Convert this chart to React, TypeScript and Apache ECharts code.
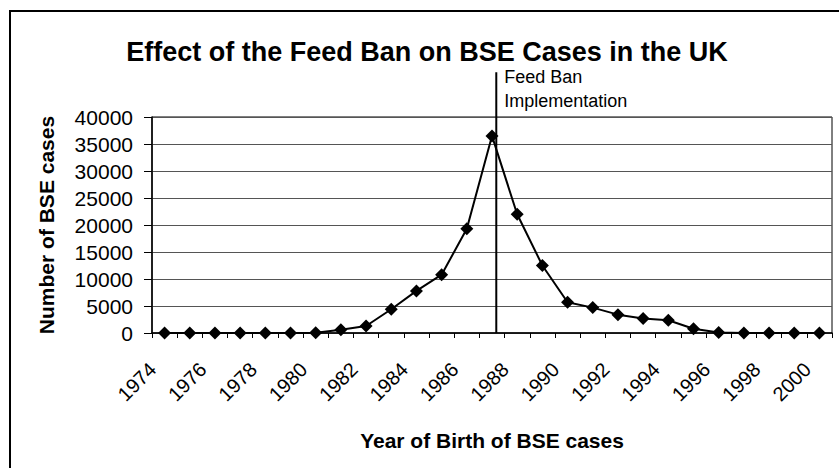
import React, { useEffect, useRef } from "react";
import * as echarts from "echarts";

const years = [
  "1974", "1975", "1976", "1977", "1978", "1979", "1980", "1981", "1982",
  "1983", "1984", "1985", "1986", "1987", "1988", "1989", "1990", "1991",
  "1992", "1993", "1994", "1995", "1996", "1997", "1998", "1999", "2000",
];
const bseCases = [
  0, 0, 0, 0, 0, 0, 50, 600, 1300,
  4400, 7800, 10800, 19300, 36500, 22000, 12500, 5700, 4700,
  3400, 2700, 2350, 800, 100, 0, 0, 0, 0,
];
const yMin = 0;
const yMax = 40000;
const yStep = 5000;
const feedBanYear = "1987";
const feedBanNextYear = "1988";
const feedBanFraction = 0.17;
const feedBanLineTopValue = 48300;
const titleText = "Effect of the Feed Ban on BSE Cases in the UK";
const xName = "Year of Birth of BSE cases";
const yName = "Number of BSE cases";
const annotationLines = ["Feed Ban", "Implementation"];

const FONT = "'Liberation Sans', Arial, Helvetica, sans-serif";

export default function App() {
  const ref = useRef<HTMLDivElement>(null);
  useEffect(() => {
    if (!ref.current) return;
    const chart = echarts.init(ref.current, null, { renderer: "svg" });
    chart.setOption({
      animation: false,
      backgroundColor: "#fff",
      title: {
        text: titleText,
        left: 422,
        textAlign: "center",
        top: 33,
        textStyle: { fontFamily: FONT, fontSize: 27, fontWeight: "bold", color: "#000" },
      },
      grid: {
        left: 152,
        right: 7,
        top: 117,
        bottom: 135,
        show: true,
        borderColor: "#000",
        borderWidth: 1,
        backgroundColor: "transparent",
      },
      xAxis: {
        type: "category",
        data: years,
        boundaryGap: true,
        name: xName,
        nameLocation: "middle",
        nameGap: 97,
        nameTextStyle: { fontFamily: FONT, fontSize: 21, fontWeight: "bold", color: "#000" },
        axisLine: { show: true, lineStyle: { color: "#000", width: 1.5 } },
        axisTick: { show: true, interval: 0, alignWithLabel: false, length: 5, lineStyle: { color: "#000" } },
        axisLabel: {
          interval: 1,
          rotate: 45,
          margin: 21,
          padding: [0, 17, 0, 0],
          fontFamily: FONT,
          fontSize: 20,
          color: "#000",
        },
        splitLine: { show: false },
      },
      yAxis: {
        type: "value",
        min: yMin,
        max: yMax,
        interval: yStep,
        name: yName,
        nameLocation: "middle",
        nameGap: 95,
        nameRotate: 90,
        nameTextStyle: { fontFamily: FONT, fontSize: 21, fontWeight: "bold", color: "#000" },
        axisLine: { show: true, lineStyle: { color: "#000", width: 1.5 } },
        axisTick: { show: true, length: 8, lineStyle: { color: "#000" } },
        axisLabel: {
          margin: 19,
          fontFamily: FONT,
          fontSize: 21,
          color: "#000",
          formatter: (v: number) => String(v),
        },
        splitLine: { show: true, lineStyle: { color: "#555", width: 1 } },
      },
      series: [
        {
          type: "line",
          data: bseCases,
          symbol: "diamond",
          symbolSize: 13,
          itemStyle: { color: "#000" },
          lineStyle: { color: "#000", width: 2 },
          z: 5,
        },
      ],
    });

    const p1 = chart.convertToPixel({ xAxisIndex: 0 }, feedBanYear) as number;
    const p2 = chart.convertToPixel({ xAxisIndex: 0 }, feedBanNextYear) as number;
    const lineX = p1 + feedBanFraction * (p2 - p1);
    const yTop = chart.convertToPixel({ yAxisIndex: 0 }, feedBanLineTopValue) as number;
    const yBottom = chart.convertToPixel({ yAxisIndex: 0 }, yMin) as number;

    chart.setOption({
      graphic: [
        {
          id: "frame",
          type: "rect",
          shape: { x: 10, y: 11, width: 840, height: 470 },
          style: { fill: "none", stroke: "#000", lineWidth: 2 },
          z: 0,
        },
        {
          id: "banLine",
          type: "line",
          shape: { x1: lineX, y1: yTop, x2: lineX, y2: yBottom },
          style: { stroke: "#000", lineWidth: 2 },
          z: 10,
        },
        ...annotationLines.map((t, i) => ({
          id: "ann" + i,
          type: "text",
          x: lineX + 8,
          y: yTop + 5 + i * 24,
          style: {
            text: t,
            fontFamily: FONT,
            fontSize: 18,
            fill: "#000",
            textAlign: "left",
            textVerticalAlign: "middle",
          },
          z: 10,
        })),
      ],
    });

    return () => chart.dispose();
  }, []);
  return (
    <div
      ref={ref}
      style={{ position: "absolute", left: 0, top: 0, width: 839, height: 468 }}
    />
  );
}
